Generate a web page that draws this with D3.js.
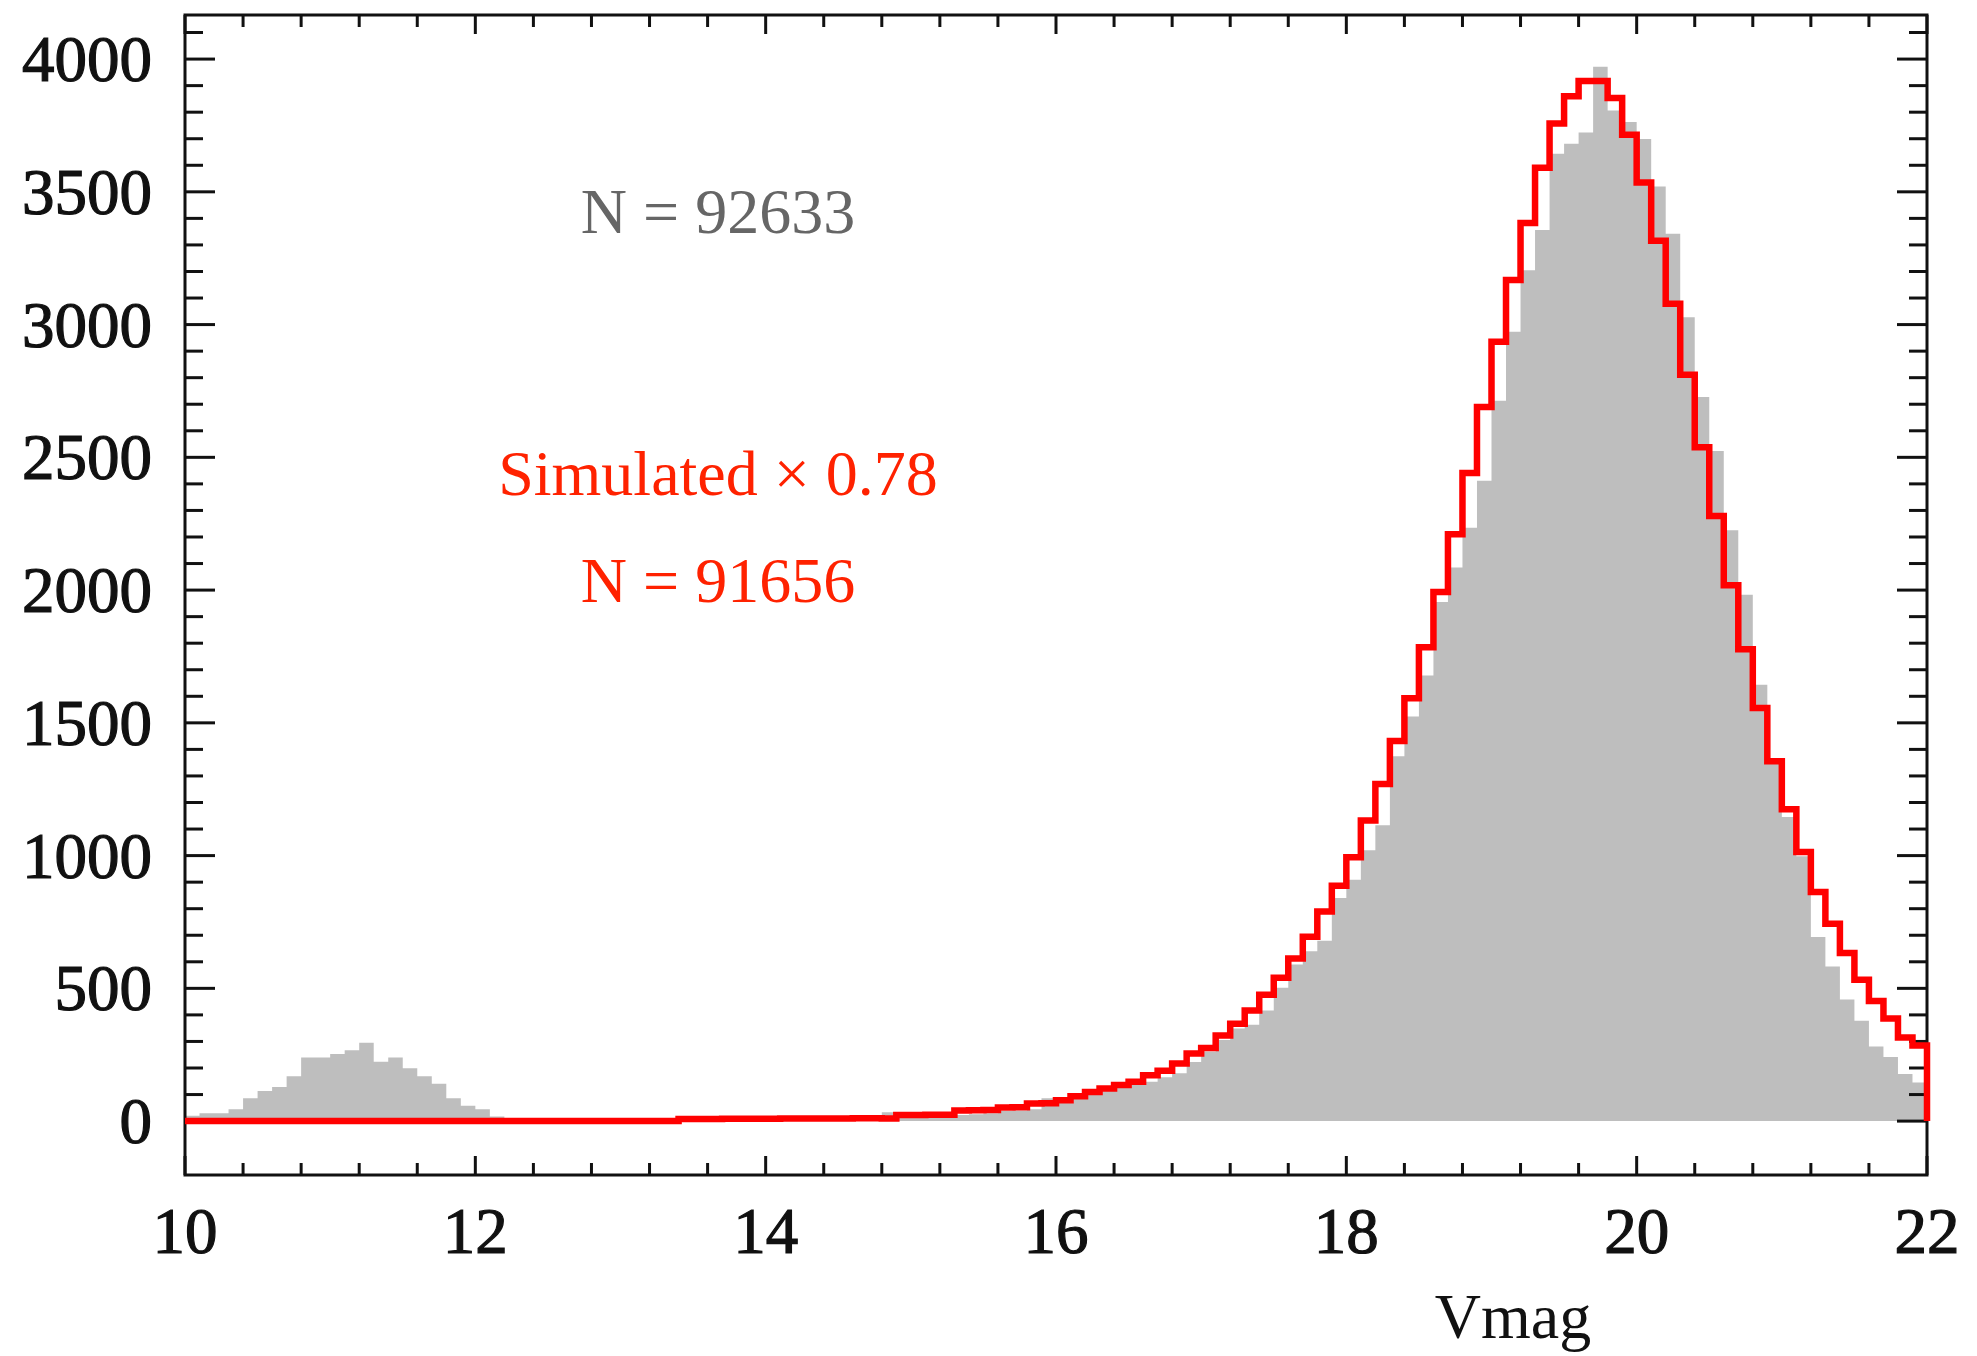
<!DOCTYPE html>
<html>
<head>
<meta charset="utf-8">
<script src="https://cdn.jsdelivr.net/npm/d3@7"></script>
<style>
  html, body { margin: 0; padding: 0; background: #fff; }
  svg { display: block; }
</style>
</head>
<body>
<svg id="chart"></svg>
<script>
// Bins: 0.1 mag wide, from 10.0 to 21.9
const binStart = 10;
const binWidth = 0.1;

// Observed counts (grey histogram)
const observed = [
    20, 30, 30, 45, 86, 113, 128, 169, 240, 240,
    253, 267, 295, 224, 240, 199, 169, 141, 86, 58,
    45, 17, 5, 3, 2, 4, 3, 2, 3, 5,
    4, 3, 4, 5, 6, 5, 6, 7, 6, 8,
    8, 9, 10, 12, 14, 15, 18, 20, 33, 22,
    24, 25, 26, 23, 26, 30, 38, 40, 45, 86,
    75, 92, 105, 118, 130, 140, 148, 165, 180, 223,
    262, 305, 349, 363, 417, 502, 590, 640, 679, 840,
    909, 1020, 1114, 1374, 1524, 1678, 1955, 2085, 2235, 2412,
    2713, 2973, 3205, 3356, 3643, 3681, 3723, 3971, 3806, 3763,
    3699, 3520, 3342, 3028, 2727, 2524, 2225, 1982, 1643, 1365,
    1145, 998, 693, 582, 458, 378, 281, 241, 177, 145
];

// Simulated counts x 0.78 (red step line)
const simulated = [
    0, 0, 0, 0, 0, 0, 0, 0, 0, 0,
    0, 0, 0, 0, 0, 0, 0, 0, 0, 0,
    0, 0, 0, 0, 0, 0, 0, 0, 0, 0,
    0, 0, 0, 0, 8, 8, 8, 9, 9, 9,
    9, 10, 10, 10, 10, 10, 11, 11, 10, 23,
    23, 24, 24, 40, 41, 42, 51, 52, 66, 67,
    79, 94, 110, 123, 136, 148, 173, 190, 217, 255,
    275, 322, 367, 417, 476, 540, 612, 694, 789, 886,
    994, 1132, 1270, 1432, 1593, 1785, 1993, 2210, 2441, 2690,
    2935, 3168, 3383, 3591, 3757, 3860, 3917, 3917, 3853, 3715,
    3535, 3316, 3078, 2811, 2538, 2279, 2018, 1777, 1556, 1355,
    1175, 1014, 863, 743, 633, 532, 452, 386, 315, 285
];

const xTicks = [10, 12, 14, 16, 18, 20, 22];
const yTicks = [0, 500, 1000, 1500, 2000, 2500, 3000, 3500, 4000];

const notes = [
    { text: "N = 92633", color: "#666666", y: 233 },
    { text: "Simulated \u00d7 0.78", color: "#ff2200", y: 495 },
    { text: "N = 91656", color: "#ff2200", y: 602 }
];

// Size
const width = 1977;
const height = 1356;
const frame = { left: 185, right: 1927, top: 15, bottom: 1175 };

const svg = d3.select("#chart")
    .attr("width", width)
    .attr("height", height);

const x = d3.scaleLinear()
    .domain([10, 22])
    .range([frame.left, frame.right]);

const y = d3.scaleLinear()
    .domain([-203, 4166])
    .range([frame.bottom, frame.top]);

const toSteps = arr => {
    const pts = arr.map((v, i) => [binStart + i * binWidth, v]);
    pts.push([binStart + arr.length * binWidth, arr[arr.length - 1]]);
    return pts;
};

// Grey histogram
const area = d3.area()
    .curve(d3.curveStepAfter)
    .x(d => x(d[0]))
    .y0(y(0))
    .y1(d => y(d[1]));

svg.append("path")
    .datum(toSteps(observed))
    .attr("d", area)
    .attr("fill", "#bebebe");

// Frame + ticks
const axes = svg.append("g")
    .attr("stroke", "#111")
    .attr("stroke-width", 3)
    .attr("fill", "none");

axes.append("rect")
    .attr("x", frame.left)
    .attr("y", frame.top)
    .attr("width", frame.right - frame.left)
    .attr("height", frame.bottom - frame.top);

const yMinor = d3.range(0, 4101, 100);
yMinor.forEach(v => {
    const len = v % 500 === 0 ? 30 : 18;
    axes.append("line").attr("x1", frame.left).attr("x2", frame.left + len).attr("y1", y(v)).attr("y2", y(v));
    axes.append("line").attr("x1", frame.right).attr("x2", frame.right - len).attr("y1", y(v)).attr("y2", y(v));
});

const xMinor = d3.range(0, 31).map(i => 10 + i * 0.4);
xMinor.forEach((m, i) => {
    const len = i % 5 === 0 ? 19 : 12;
    axes.append("line").attr("x1", x(m)).attr("x2", x(m)).attr("y1", frame.bottom).attr("y2", frame.bottom - len);
    axes.append("line").attr("x1", x(m)).attr("x2", x(m)).attr("y1", frame.top).attr("y2", frame.top + len);
});

// Red step line
const line = d3.line()
    .curve(d3.curveStepAfter)
    .x(d => x(d[0]))
    .y(d => y(d[1]));

const simPts = toSteps(simulated);
simPts.push([22, 0]);

svg.append("path")
    .datum(simPts)
    .attr("d", line)
    .attr("fill", "none")
    .attr("stroke", "#ff0000")
    .attr("stroke-width", 6.5)
    .attr("stroke-linejoin", "miter");

// Tick labels
const font = "'Liberation Serif', 'Times New Roman', serif";

svg.selectAll(".ylab")
    .data(yTicks)
    .enter()
    .append("text")
    .attr("x", 152)
    .attr("y", d => y(d))
    .attr("dy", "0.34em")
    .attr("text-anchor", "end")
    .attr("font-family", font)
    .attr("font-size", 65)
    .attr("fill", "#111")
    .attr("stroke", "#111")
    .attr("stroke-width", 1.2)
    .text(d => d);

svg.selectAll(".xlab")
    .data(xTicks)
    .enter()
    .append("text")
    .attr("x", d => x(d))
    .attr("y", 1253)
    .attr("text-anchor", "middle")
    .attr("font-family", font)
    .attr("font-size", 65)
    .attr("fill", "#111")
    .attr("stroke", "#111")
    .attr("stroke-width", 1.2)
    .text(d => d);

svg.append("text")
    .attr("x", 1513)
    .attr("y", 1338)
    .attr("text-anchor", "middle")
    .attr("font-family", font)
    .attr("font-size", 64)
    .attr("fill", "#111")
    .text("Vmag");

// Notes
svg.selectAll(".note")
    .data(notes)
    .enter()
    .append("text")
    .attr("x", 718)
    .attr("y", d => d.y)
    .attr("text-anchor", "middle")
    .attr("font-family", font)
    .attr("font-size", 64)
    .attr("fill", d => d.color)
    .text(d => d.text);
</script>
</body>
</html>
